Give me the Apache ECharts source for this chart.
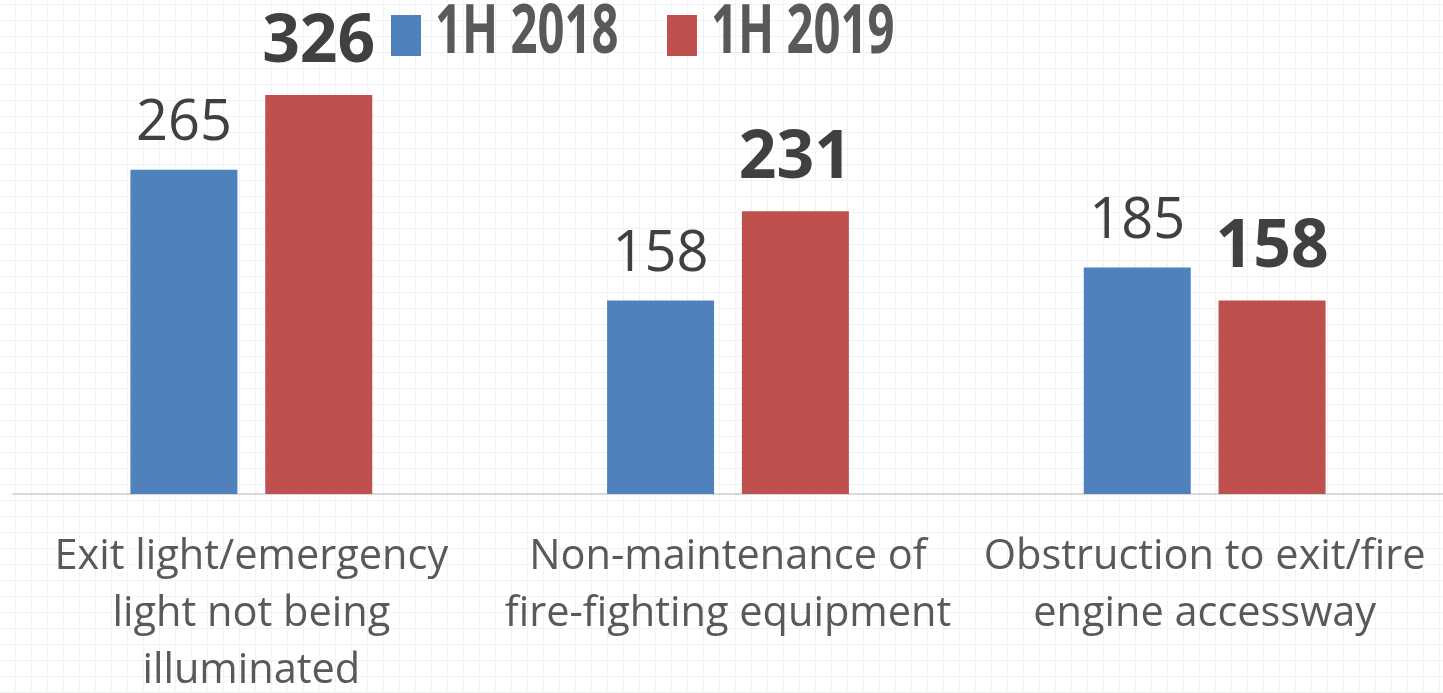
<!DOCTYPE html>
<html>
<head>
<meta charset="utf-8">
<script src="https://cdn.jsdelivr.net/npm/echarts@6/dist/echarts.min.js"></script>
<style>
  html, body { margin: 0; padding: 0; background: #fff; }
  #chart {
    width: 1443px; height: 693px;
    background-color: #ffffff;
    background-image:
      linear-gradient(to right, #eef3fa 1px, transparent 1px),
      linear-gradient(to bottom, #eef3fa 1px, transparent 1px);
    background-size: 16px 16px;
    background-position: -1px 4px;
  }
</style>
</head>
<body>
<div id="chart"></div>
<script>
const categories = [
  'Exit light/emergency\nlight not being\nilluminated',
  'Non-maintenance of\nfire-fighting equipment',
  'Obstruction to exit/fire\nengine accessway'
];
const seriesNames = ['1H 2018', '1H 2019'];
const values2018 = [265, 158, 185];
const values2019 = [326, 231, 158];

const chart = echarts.init(document.getElementById('chart'), null, { renderer: 'canvas' });
const baseFont = "'Open Sans', 'Noto Sans', sans-serif";

function legendText(name, x) {
  return {
    type: 'text', x: x, y: 34, scaleX: 0.695, silent: true,
    style: { text: name, fontFamily: baseFont, fontWeight: 'bold', fontSize: 68, fill: '#595959', align: 'left', verticalAlign: 'middle' }
  };
}

chart.setOption({
  backgroundColor: 'transparent',
  animation: false,
  legend: {
    data: seriesNames, left: 391, top: 15, padding: 0,
    itemWidth: 30, itemHeight: 41, itemGap: 246, icon: 'rect',
    formatter: () => '', textStyle: { fontSize: 10, padding: 0 }
  },
  graphic: [
    legendText(seriesNames[0], 435),
    legendText(seriesNames[1], 711)
  ],
  grid: { left: 13, right: 0, top: 4.4, bottom: 199, containLabel: false, outerBoundsMode: 'none' },
  xAxis: {
    type: 'category', data: categories,
    axisLine: { show: true, lineStyle: { color: '#d9d9d9', width: 2 } },
    axisTick: { show: false },
    axisLabel: { interval: 0, margin: 35, fontFamily: baseFont, fontSize: 41.5, lineHeight: 57, color: '#595959' }
  },
  yAxis: { type: 'value', min: 0, max: 400, show: false },
  series: [
    { name: seriesNames[0], type: 'bar', data: values2018, barWidth: 107, barGap: '26%', itemStyle: { color: '#4F81BD' },
      label: { show: true, position: 'top', distance: 18, fontFamily: baseFont, fontSize: 56, color: '#404040' } },
    { name: seriesNames[1], type: 'bar', data: values2019, barWidth: 107, itemStyle: { color: '#C0504D' },
      label: { show: true, position: 'top', distance: 19, fontFamily: baseFont, fontWeight: 'bold', fontSize: 66, color: '#404040' } }
  ]
});
</script>
</body>
</html>
